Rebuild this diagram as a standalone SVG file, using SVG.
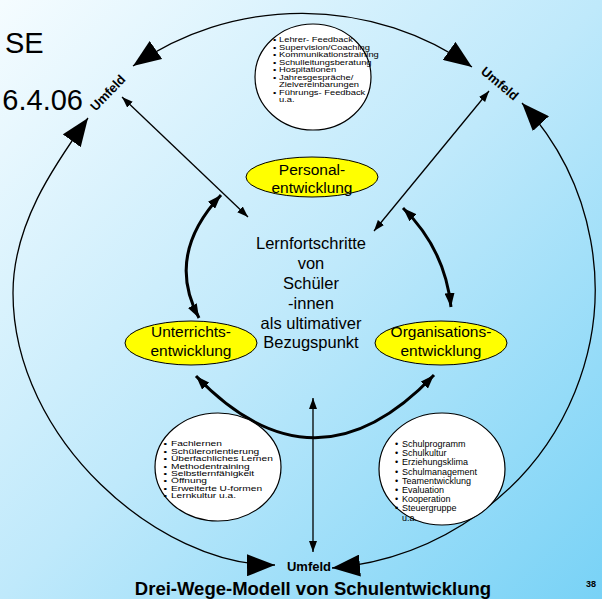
<svg xmlns="http://www.w3.org/2000/svg" width="602" height="599" viewBox="0 0 602 599">
<defs>
<linearGradient id="bg" x1="0" y1="0" x2="1" y2="1">
<stop offset="0" stop-color="#f5fcff"/>
<stop offset="0.5" stop-color="#bfe9fb"/>
<stop offset="1" stop-color="#78d2f6"/>
</linearGradient>
<marker id="big" markerUnits="userSpaceOnUse" viewBox="0 0 28 22" markerWidth="28" markerHeight="22" refX="28" refY="11" orient="auto-start-reverse"><path d="M0,0 L28,11 L0,22 z" fill="#000"/></marker>
<marker id="mid" markerUnits="userSpaceOnUse" viewBox="0 0 14 10" markerWidth="14" markerHeight="10" refX="14" refY="5" orient="auto-start-reverse"><path d="M0,0 L14,5 L0,10 z" fill="#000"/></marker>
<marker id="small" markerUnits="userSpaceOnUse" viewBox="0 0 11 8" markerWidth="11" markerHeight="8" refX="11" refY="4" orient="auto-start-reverse"><path d="M0,0 L11,4 L0,8 z" fill="#000"/></marker>
</defs>
<style>
text{font-family:"Liberation Sans",Arial,sans-serif;fill:#000}
.yel{fill:#ffff00;stroke:#000;stroke-width:1}
.wht{fill:#fff;stroke:#000;stroke-width:1.2}
.outer{fill:none;stroke:#000;stroke-width:1.3;marker-start:url(#big);marker-end:url(#big)}
.thick{fill:none;stroke:#000;stroke-width:3;marker-start:url(#mid);marker-end:url(#mid)}
.thin{fill:none;stroke:#000;stroke-width:1.3;marker-start:url(#small);marker-end:url(#small)}
.lbl{font-size:15.5px;text-anchor:middle}
.ctr{font-size:16.5px;text-anchor:middle}
.lst{font-size:9px}
.um{font-weight:bold;font-size:13px;text-anchor:middle}
</style>
<rect width="602" height="599" fill="url(#bg)"/>
<text x="5" y="53" font-size="29">SE</text>
<text x="83" y="110" font-size="29" text-anchor="end">6.4.06</text>

<g id="connectors">
<path class="outer" d="M133,66 A289,280 0 0 1 472,67"/>
<path class="outer" d="M522,103 A289,280 0 0 1 332,568"/>
<path class="outer" d="M88,118 C53,167 13,225 13,293 C13,440 160,566 275,565"/>
<path class="thin" d="M122,97 L248,217"/>
<path class="thin" d="M489,91 L374,231"/>
<path class="thin" d="M313,398 L313,552"/>
<path class="thick" d="M221,195 Q165,255 199,318"/>
<path class="thick" d="M403,208 Q445,249 451,307"/>
<path class="thick" d="M196,376 Q315,500 434,375"/>
</g>

<g id="umfeld-left"><text class="um" transform="translate(111,96) rotate(-46)">Umfeld</text></g>
<g id="umfeld-right"><text class="um" transform="translate(497,87) rotate(40)">Umfeld</text></g>
<g id="umfeld-bottom"><text class="um" x="309" y="571" font-size="13.5">Umfeld</text></g>

<g id="personal">
<ellipse class="yel" cx="312" cy="177" rx="66" ry="20"/>
<text class="lbl" x="312" y="175">Personal-</text>
<text class="lbl" x="312" y="193">entwicklung</text>
</g>
<g id="unterricht">
<ellipse class="yel" cx="191" cy="343" rx="66" ry="22"/>
<text class="lbl" x="191" y="337">Unterrichts-</text>
<text class="lbl" x="191" y="356">entwicklung</text>
</g>
<g id="organisation">
<ellipse class="yel" cx="441" cy="343" rx="66" ry="22"/>
<text class="lbl" x="441" y="337">Organisations-</text>
<text class="lbl" x="441" y="356">entwicklung</text>
</g>

<g id="center">
<text class="ctr" x="311" y="249">Lernfortschritte</text>
<text class="ctr" x="311" y="269">von</text>
<text class="ctr" x="311" y="289">Schüler</text>
<text class="ctr" x="311" y="309">-innen</text>
<text class="ctr" x="311" y="329">als ultimativer</text>
<text class="ctr" x="311" y="348">Bezugspunkt</text>
</g>

<g id="list-personal">
<ellipse class="wht" cx="313" cy="77" rx="58" ry="53"/>
<text font-size="7.2" y="42.5" transform="matrix(1.3 0 0 1 -83.7 0)">
<tspan x="274.4">•</tspan><tspan x="279">Lehrer- Feedback</tspan>
<tspan x="274.4" dy="7.5">•</tspan><tspan x="279">Supervision/Coaching</tspan>
<tspan x="274.4" dy="7.5">•</tspan><tspan x="279">Kommunikationstraining</tspan>
<tspan x="274.4" dy="7.5">•</tspan><tspan x="279">Schulleitungsberatung</tspan>
<tspan x="274.4" dy="7.5">•</tspan><tspan x="279">Hospitationen</tspan>
<tspan x="274.4" dy="7.5">•</tspan><tspan x="279">Jahresgespräche/</tspan>
<tspan x="279" dy="7.5">Zielvereinbarungen</tspan>
<tspan x="274.4" dy="7.5">•</tspan><tspan x="279">Führungs- Feedback</tspan>
<tspan x="279" dy="7.5">u.a.</tspan>
</text>
</g>

<g id="list-unterricht">
<ellipse class="wht" cx="218" cy="467" rx="63" ry="54"/>
<text font-size="7.5" y="446.5" transform="matrix(1.36 0 0 1 -61.6 0)">
<tspan x="165.6">•</tspan><tspan x="171">Fachlernen</tspan>
<tspan x="165.6" dy="7.4">•</tspan><tspan x="171">Schülerorientierung</tspan>
<tspan x="165.6" dy="7.4">•</tspan><tspan x="171">Überfachliches Lernen</tspan>
<tspan x="165.6" dy="7.4">•</tspan><tspan x="171">Methodentraining</tspan>
<tspan x="165.6" dy="7.4">•</tspan><tspan x="171">Selbstlernfähigkeit</tspan>
<tspan x="165.6" dy="7.4">•</tspan><tspan x="171">Öffnung</tspan>
<tspan x="165.6" dy="7.4">•</tspan><tspan x="171">Erweiterte U-formen</tspan>
<tspan x="165.6" dy="7.4">•</tspan><tspan x="171">Lernkultur u.a.</tspan>
</text>
</g>

<g id="list-organisation">
<ellipse class="wht" cx="442" cy="469" rx="63" ry="56"/>
<text class="lst" y="447">
<tspan x="395">•</tspan><tspan x="402">Schulprogramm</tspan>
<tspan x="395" dy="9.2">•</tspan><tspan x="402">Schulkultur</tspan>
<tspan x="395" dy="9.2">•</tspan><tspan x="402">Erziehungsklima</tspan>
<tspan x="395" dy="9.2">•</tspan><tspan x="402">Schulmanagement</tspan>
<tspan x="395" dy="9.2">•</tspan><tspan x="402">Teamentwicklung</tspan>
<tspan x="395" dy="9.2">•</tspan><tspan x="402">Evaluation</tspan>
<tspan x="395" dy="9.2">•</tspan><tspan x="402">Kooperation</tspan>
<tspan x="395" dy="9.2">•</tspan><tspan x="402">Steuergruppe</tspan>
<tspan x="402" dy="9.2">u.a.</tspan>
</text>
</g>

<text x="313" y="595" font-size="18.5" font-weight="bold" text-anchor="middle">Drei-Wege-Modell von Schulentwicklung</text>
<text x="591" y="587" font-size="9" font-weight="bold" text-anchor="middle">38</text>
</svg>
